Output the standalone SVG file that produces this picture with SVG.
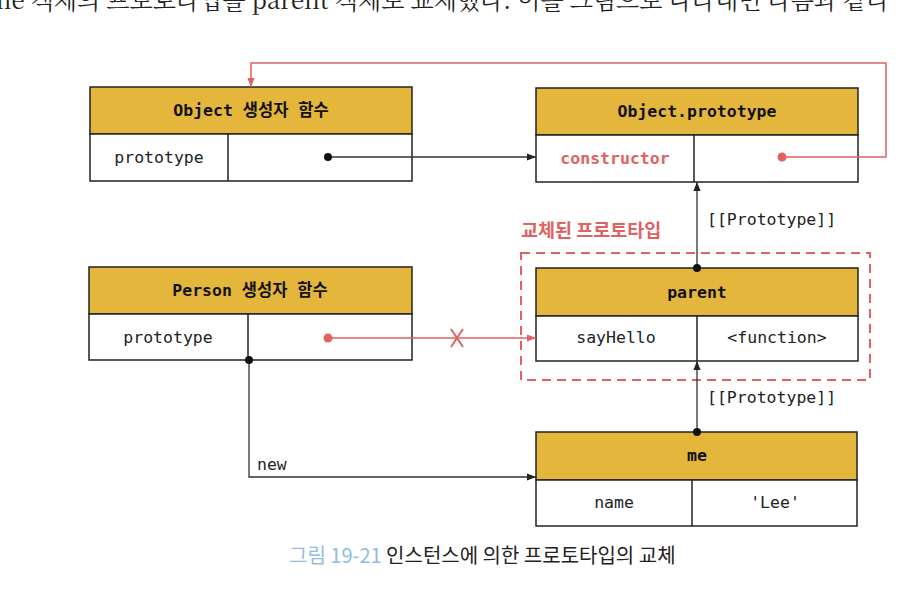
<svg xmlns="http://www.w3.org/2000/svg" width="910" height="592" viewBox="0 0 910 592">
<defs>
<marker id="ab" viewBox="0 0 10 10" refX="10" refY="5" markerWidth="9" markerHeight="9" markerUnits="userSpaceOnUse" orient="auto"><path d="M0,1 L10,5 L0,9 Z" fill="#222"/></marker>
<marker id="ar" viewBox="0 0 10 10" refX="10" refY="5" markerWidth="9" markerHeight="9" markerUnits="userSpaceOnUse" orient="auto"><path d="M0,1 L10,5 L0,9 Z" fill="#e06262"/></marker>
</defs>
<style>
.hd{fill:#e4b63c;stroke:#222;stroke-width:1.5}
.rw{fill:#fff;stroke:#222;stroke-width:1.5}
.dv{stroke:#222;stroke-width:1.5}
.ht{font-family:"DejaVu Sans Mono","Noto Sans CJK KR",monospace;font-weight:bold;font-size:16.5px;fill:#111;text-anchor:middle}
.rt{font-family:"DejaVu Sans Mono","Noto Sans CJK KR",monospace;font-size:16.5px;fill:#222;text-anchor:middle}
.lb{font-family:"DejaVu Sans Mono",monospace;font-size:16.5px;fill:#222}
.bk{stroke:#333;stroke-width:1.3;fill:none}
.rd{stroke:#e06262;stroke-width:1.5;fill:none}
.red{fill:#e06262}
.blk{fill:#111}
</style>
<text x="-12" y="9" font-family="'Noto Serif CJK KR','Noto Sans CJK KR',serif" font-size="24" fill="#222">me 객체의 프로토타입을 parent 객체로 교체했다. 이를 그림으로 나타내면 다음과 같다</text>
<g id="replaced">
<rect x="521" y="253" width="349" height="127" fill="none" stroke="#e06262" stroke-width="2" stroke-dasharray="9,6"/>
<text x="521" y="237" font-family="'Noto Sans CJK KR',sans-serif" font-weight="bold" font-size="18.5" fill="#e06262">교체된 프로토타입</text>
</g>
<g id="object-ctor">
<rect class="hd" x="90" y="87" width="322" height="47"/>
<rect class="rw" x="90" y="134" width="322" height="47"/>
<line class="dv" x1="228" y1="134" x2="228" y2="181"/>
<text class="ht" x="251" y="116">Object 생성자 함수</text>
<text class="rt" x="159" y="163">prototype</text>
</g>
<g id="object-prototype">
<rect class="hd" x="536" y="88" width="322" height="47"/>
<rect class="rw" x="536" y="135" width="322" height="47"/>
<line class="dv" x1="694" y1="135" x2="694" y2="182"/>
<text class="ht" x="697" y="117">Object.prototype</text>
<text class="rt" x="615" y="164" style="fill:#e06262;font-weight:bold">constructor</text>
</g>
<g id="person-ctor">
<rect class="hd" x="89" y="267" width="323" height="47"/>
<rect class="rw" x="89" y="314" width="323" height="46"/>
<line class="dv" x1="248" y1="314" x2="248" y2="360"/>
<text class="ht" x="250" y="296">Person 생성자 함수</text>
<text class="rt" x="168" y="343">prototype</text>
</g>
<g id="parent">
<rect class="hd" x="536" y="268" width="322" height="48"/>
<rect class="rw" x="536" y="316" width="322" height="45"/>
<line class="dv" x1="697" y1="316" x2="697" y2="361"/>
<text class="ht" x="697" y="298">parent</text>
<text class="rt" x="616" y="343">sayHello</text>
<text class="rt" x="777" y="343">&lt;function&gt;</text>
</g>
<g id="me">
<rect class="hd" x="536" y="432" width="321" height="48"/>
<rect class="rw" x="536" y="480" width="321" height="46"/>
<line class="dv" x1="692" y1="480" x2="692" y2="526"/>
<text class="ht" x="697" y="461">me</text>
<text class="rt" x="614" y="508">name</text>
<text class="rt" x="775" y="508">'Lee'</text>
</g>
<g id="connectors">
<path class="rd" d="M782,157 H886 V63 H251 V87" marker-end="url(#ar)"/>
<path class="bk" d="M328,157 H536" marker-end="url(#ab)"/>
<path class="bk" d="M697,268 V182" marker-end="url(#ab)"/>
<path class="bk" d="M697,432 V361" marker-end="url(#ab)"/>
<path class="bk" d="M249,360 V477 H536" marker-end="url(#ab)"/>
<path class="rd" d="M328,338 H536" marker-end="url(#ar)"/>
<path d="M451,329 Q457,338 463,347 M463,329 Q457,338 451,347" stroke="#e06262" stroke-width="2" fill="none"/>
<circle class="blk" cx="328" cy="157" r="4"/>
<circle class="blk" cx="697" cy="268" r="4"/>
<circle class="blk" cx="697" cy="432" r="4"/>
<circle class="blk" cx="249" cy="360" r="4"/>
<circle class="red" cx="782" cy="157" r="4.5"/>
<circle class="red" cx="328" cy="338" r="4.5"/>
<text class="lb" x="707" y="225">[[Prototype]]</text>
<text class="lb" x="707" y="403">[[Prototype]]</text>
<text class="lb" x="257" y="470">new</text>
</g>
<text x="289" y="563" font-family="'Noto Sans CJK KR',sans-serif" font-size="20" fill="#222"><tspan fill="#8fbce6">그림 19-21</tspan> 인스턴스에 의한 프로토타입의 교체</text>
</svg>
